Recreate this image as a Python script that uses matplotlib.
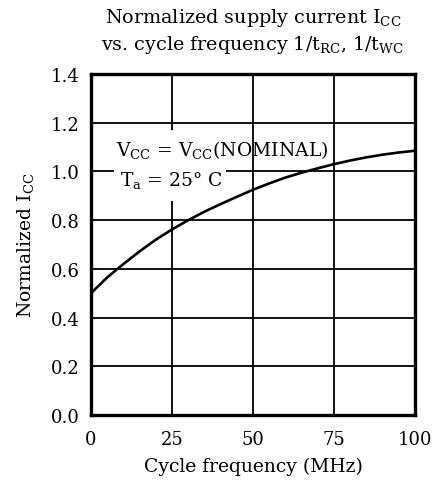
import numpy as np
import matplotlib
matplotlib.use("Agg")
import matplotlib.pyplot as plt
from matplotlib.patches import Rectangle

plt.rcParams['font.family'] = ['DejaVu Serif']
plt.rcParams['mathtext.fontset'] = 'dejavuserif'

#-curve
freq = [0, 5, 10, 15, 20, 25, 30, 35, 40, 45, 50,
        55, 60, 65, 70, 75, 80, 85, 90, 95, 100]
icc = [0.50, 0.565, 0.62, 0.672, 0.72, 0.762, 0.80, 0.835, 0.866, 0.896, 0.925,
       0.951, 0.975, 0.995, 1.013, 1.03, 1.045, 1.058, 1.069, 1.078, 1.085]

xticks = [0, 25, 50, 75, 100]
yticks = [0.0, 0.2, 0.4, 0.6, 0.8, 1.0, 1.2, 1.4]

fig = plt.figure(figsize=(4.4, 4.81), dpi=100)
ax = fig.add_axes([0.2068, 0.135, 0.7364, 0.709])

ax.plot(freq, icc, color="black", lw=1.9, zorder=4)

ax.set_xlim(0, 100)
ax.set_ylim(0, 1.4)
ax.set_xticks(xticks)
ax.set_yticks(yticks)
ax.set_xticklabels([str(t) for t in xticks])
ax.set_yticklabels(["%.1f" % t for t in yticks])
ax.tick_params(length=0, labelsize=13)
ax.tick_params(axis="y", pad=8)
ax.tick_params(axis="x", pad=11)
ax.grid(True, color="black", lw=1.3, zorder=1)
ax.set_axisbelow(True)
for s in ax.spines.values():
    s.set_linewidth(2.4)
    s.set_zorder(5)

#-white patch behind the conditions text
ax.add_patch(Rectangle((7.1, 0.878), 34.6, 0.292, facecolor="white",
                       edgecolor="none", zorder=2))
ax.text(7.6, 1.092, r"V$_{\rm CC}$ = V$_{\rm CC}$(NOMINAL)", fontsize=13.5,
        va="center", ha="left", zorder=3)
ax.text(9.0, 0.965, r"T$_{\rm a}$ = 25° C", fontsize=13.5,
        va="center", ha="left", zorder=3)

ax.set_title("Normalized supply current I$_{\\rm CC}$\n"
             "vs. cycle frequency 1/t$_{\\rm RC}$, 1/t$_{\\rm WC}$",
             fontsize=13.8, pad=18, linespacing=1.3)
ax.set_xlabel("Cycle frequency (MHz)", fontsize=13.5, labelpad=6)
ax.set_ylabel("Normalized I$_{\\rm CC}$", fontsize=13.5, labelpad=11)

fig.savefig("out.png", dpi=100)
